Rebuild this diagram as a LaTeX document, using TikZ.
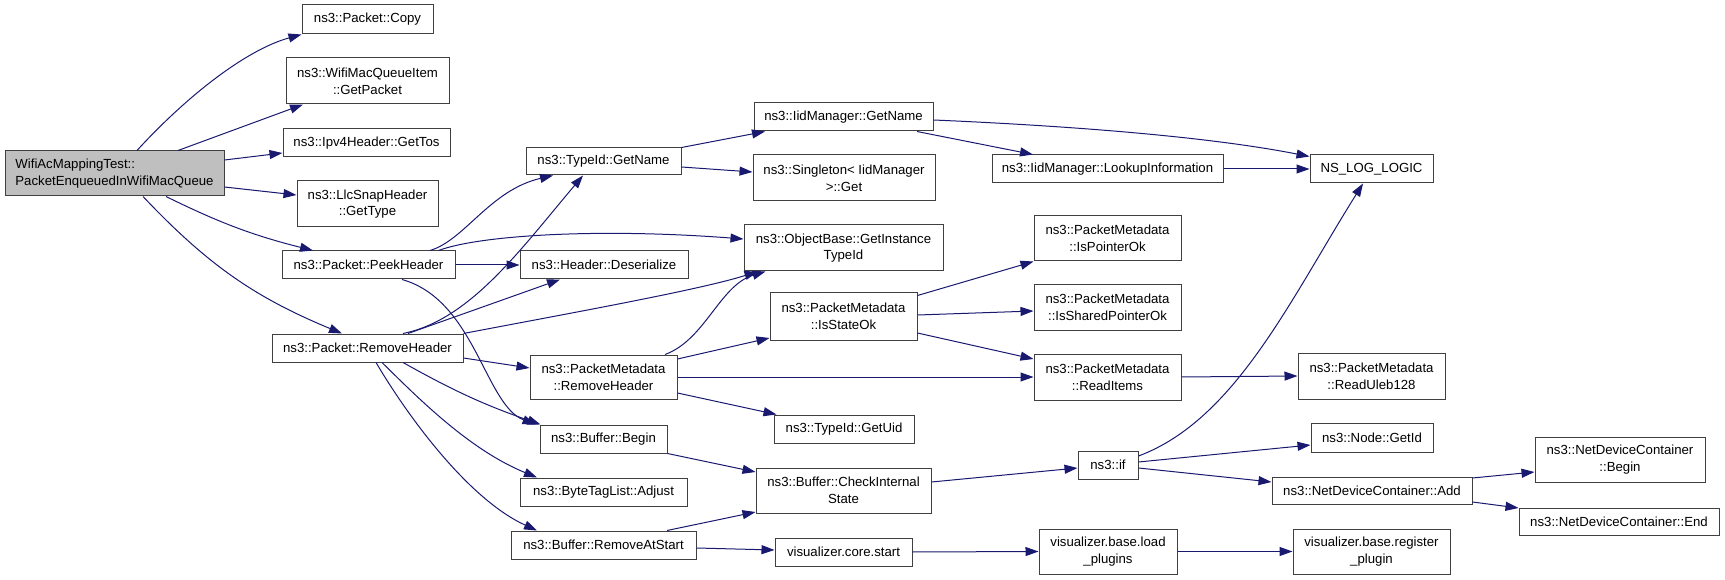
\documentclass[tikz,border=0pt]{standalone}
\usepackage{fontspec}
\setmainfont{Liberation Sans}
\usetikzlibrary{arrows.meta}
\definecolor{edgec}{HTML}{191970}
\definecolor{boxc}{HTML}{404040}
\definecolor{mainfill}{HTML}{BFBFBF}
\tikzset{
  box/.style={draw=boxc, line width=1pt, fill=white, inner sep=0pt, align=center, font=\fontsize{13.2}{16.7}\selectfont},
  mainbox/.style={box, fill=mainfill, align=left},
  edge/.style={draw=edgec, line width=1pt, -{Triangle[length=13pt,width=9pt]}},
}
\newcommand\bx[7]{%
 \pgfmathsetmacro\bxcx{(#3+#5)/2}%
 \pgfmathsetmacro\bxcy{(#4+#6)/2}%
 \pgfmathsetmacro\bxw{#5-#3}%
 \pgfmathsetmacro\bxh{#6-#4}%
 \node[#1, minimum width=\bxw pt, minimum height=\bxh pt] (#2) at (\bxcx,\bxcy) {#7};}
\begin{document}
\begin{tikzpicture}[x=1pt,y=-1pt]
\path[use as bounding box] (0,0) rectangle (1725,580);
\bx{mainbox}{main}{5}{151}{224}{196}{WifiAcMappingTest::\\PacketEnqueuedInWifiMacQueue}
\bx{box}{copy}{302}{5}{433}{34}{ns3::Packet::Copy}
\bx{box}{getpacket}{286}{58}{449}{104}{ns3::WifiMacQueueItem\\::GetPacket}
\bx{box}{gettos}{283}{129}{450}{157}{ns3::Ipv4Header::GetTos}
\bx{box}{gettype}{297}{181}{438}{227}{ns3::LlcSnapHeader\\::GetType}
\bx{box}{peek}{282}{251}{455}{279}{ns3::Packet::PeekHeader}
\bx{box}{remh}{272}{334}{463}{362}{ns3::Packet::RemoveHeader}
\bx{box}{tgetname}{526}{148}{681}{175}{ns3::TypeId::GetName}
\bx{box}{deser}{520}{251}{688}{279}{ns3::Header::Deserialize}
\bx{box}{igetname}{754}{103}{933}{131}{ns3::IidManager::GetName}
\bx{box}{singleton}{753}{155}{935}{201}{ns3::Singleton< IidManager\\>::Get}
\bx{box}{objbase}{744}{225}{943}{271}{ns3::ObjectBase::GetInstance\\TypeId}
\bx{box}{isstate}{770}{293}{917}{340}{ns3::PacketMetadata\\::IsStateOk}
\bx{box}{lookup}{992}{155}{1223}{183}{ns3::IidManager::LookupInformation}
\bx{box}{nslog}{1310}{155}{1433}{183}{NS\_LOG\_LOGIC}
\bx{box}{isptr}{1034}{216}{1181}{261}{ns3::PacketMetadata\\::IsPointerOk}
\bx{box}{isshared}{1034}{285}{1181}{330}{ns3::PacketMetadata\\::IsSharedPointerOk}
\bx{box}{pmremh}{530}{355}{677}{399}{ns3::PacketMetadata\\::RemoveHeader}
\bx{box}{getuid}{774}{415}{914}{443}{ns3::TypeId::GetUid}
\bx{box}{bbegin}{540}{425}{667}{453}{ns3::Buffer::Begin}
\bx{box}{adjust}{520}{478}{687}{506}{ns3::ByteTagList::Adjust}
\bx{box}{ras}{511}{531}{696}{559}{ns3::Buffer::RemoveAtStart}
\bx{box}{check}{756}{468}{931}{513}{ns3::Buffer::CheckInternal\\State}
\bx{box}{vcore}{775}{538}{912}{566}{visualizer.core.start}
\bx{box}{readitems}{1034}{354}{1181}{400}{ns3::PacketMetadata\\::ReadItems}
\bx{box}{nsif}{1078}{451}{1138}{479}{ns3::if}
\bx{box}{load}{1039}{529}{1177}{574}{visualizer.base.load\\\_plugins}
\bx{box}{uleb}{1298}{353}{1445}{399}{ns3::PacketMetadata\\::ReadUleb128}
\bx{box}{getid}{1311}{423}{1433}{452}{ns3::Node::GetId}
\bx{box}{add}{1272}{477}{1472}{504}{ns3::NetDeviceContainer::Add}
\bx{box}{reg}{1293}{529}{1450}{574}{visualizer.base.register\\\_plugin}
\bx{box}{ndcbegin}{1535}{437}{1705}{482}{ns3::NetDeviceContainer\\::Begin}
\bx{box}{ndcend}{1519}{508}{1719}{535}{ns3::NetDeviceContainer::End}

\draw[edge] ([xshift=22.5pt]main.north) .. controls (185,98) and (245,50) .. (copy.south west);
\draw[edge] ([xshift=63.5pt]main.north) -- ([xshift=-64.5pt]getpacket.south);
\draw[edge] ([yshift=13.5pt]main.east) -- ([yshift=-10pt]gettos.west);
\draw[edge] ([yshift=-13.5pt]main.east) -- ([yshift=9pt]gettype.west);
\draw[edge] ([xshift=51.5pt]main.south) to[bend right=6] ([xshift=-55.5pt]peek.north);
\draw[edge] ([xshift=28.5pt]main.south) to[bend right=12] ([xshift=-25.5pt]remh.north);

\draw[edge] ([xshift=61.5pt]peek.north) .. controls (465,240) and (490,190) .. ([xshift=-50.5pt]tgetname.south);
\draw[edge] ([xshift=70pt]peek.north) .. controls (480,235) and (600,228) .. ([yshift=9pt]objbase.west);
\draw[edge] (peek.east) -- (deser.west);
\draw[edge] ([xshift=33.5pt]peek.south) .. controls (475,300) and (485,405) .. ([xshift=-68pt]bbegin.north);

\draw[edge] ([xshift=35.5pt]remh.north) .. controls (470,320) and (520,250) .. ([xshift=-20.5pt]tgetname.south);
\draw[edge] ([xshift=40.5pt]remh.north) -- ([xshift=-44pt]deser.south);
\draw[edge] (remh.north east) .. controls (560,315) and (700,290) .. ([xshift=-86pt]objbase.south);
\draw[edge] ([yshift=-10pt]remh.east) -- ([yshift=9pt]pmremh.west);
\draw[edge] ([xshift=35.5pt]remh.south) to[bend right=5] ([xshift=-63pt]bbegin.north);
\draw[edge] ([xshift=14.5pt]remh.south) .. controls (420,400) and (470,450) .. ([xshift=-66.5pt]adjust.north);
\draw[edge] ([xshift=8.5pt]remh.south) .. controls (410,420) and (470,500) .. ([xshift=-66.5pt]ras.north);

\draw[edge] (tgetname.north east) -- ([xshift=-78.5pt]igetname.south);
\draw[edge] ([yshift=-5.5pt]tgetname.east) -- ([yshift=6pt]singleton.west);
\draw[edge] ([xshift=73.5pt]igetname.south) -- ([xshift=-74.5pt]lookup.north);
\draw[edge] ([yshift=-3pt]igetname.east) .. controls (1050,125) and (1200,135) .. ([yshift=-2pt]nslog.north west);
\draw[edge] (lookup.east) -- (nslog.west);

\draw[edge] ([xshift=61.5pt]pmremh.north) .. controls (705,340) and (720,285) .. ([xshift=-78pt]objbase.south);
\draw[edge] ([yshift=18pt]pmremh.east) -- ([yshift=-21.5pt]isstate.west);
\draw[edge] (pmremh.east) -- (readitems.west);
\draw[edge] ([yshift=-16pt]pmremh.east) -- ([xshift=3pt]getuid.north west);

\draw[edge] ([yshift=21pt]isstate.east) -- (isptr.south west);
\draw[edge] ([yshift=1.5pt]isstate.east) -- ([yshift=-3.5pt]isshared.west);
\draw[edge] ([yshift=-16.5pt]isstate.east) -- ([yshift=18pt]readitems.west);
\draw[edge] (readitems.east) -- (uleb.west);

\draw[edge] (bbegin.south east) -- ([yshift=18.5pt]check.west);
\draw[edge] ([xshift=63.5pt]ras.north) -- ([yshift=-21.5pt]check.west);
\draw[edge] ([yshift=-3pt]ras.east) -- ([yshift=2pt]vcore.west);
\draw[edge] ([yshift=8.5pt]check.east) -- ([yshift=-3pt]nsif.west);
\draw[edge] (vcore.east) -- (load.west);
\draw[edge] (load.east) -- (reg.west);

\draw[edge] ([yshift=9pt]nsif.east) .. controls (1235,420) and (1290,300) .. ([xshift=-8.5pt]nslog.south);
\draw[edge] ([yshift=3pt]nsif.east) -- ([yshift=-7.5pt]getid.west);
\draw[edge] ([yshift=-3pt]nsif.east) -- ([yshift=8.5pt]add.west);
\draw[edge] ([yshift=12.5pt]add.east) -- ([yshift=-12.5pt]ndcbegin.west);
\draw[edge] ([yshift=-11.5pt]add.east) -- ([yshift=13.5pt]ndcend.west);
\end{tikzpicture}
\end{document}
